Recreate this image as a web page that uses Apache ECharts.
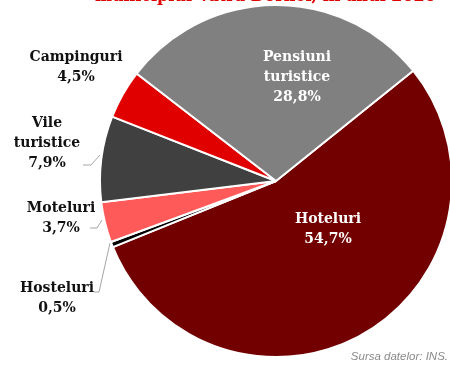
<!DOCTYPE html>
<html>
<head>
<meta charset="utf-8">
<script src="https://cdn.jsdelivr.net/npm/echarts@6/dist/echarts.min.js"></script>
<style>
  html, body { margin: 0; padding: 0; background: #fff; }
  #chart { width: 450px; height: 365px; }
</style>
</head>
<body>
<div id="chart"></div>
<script>
// Structura capacității de cazare pe tipuri de unități (%)
const categories = ['Hoteluri', 'Hosteluri', 'Moteluri', 'Vile turistice', 'Campinguri', 'Pensiuni turistice'];
const shares = [54.7, 0.5, 3.7, 7.9, 4.5, 28.8];
const colors = ['#730000', '#000000', '#ff5a5a', '#404040', '#e00000', '#808080'];

const titleText = 'municipiul Vatra Dornei, în anul 2020';
const sourceText = 'Sursa datelor: INS.';

// Label anchor and leader-line layout per slice
const labelPlace = {
  'Hoteluri':           { x: 328, y: 229, color: '#ffffff' },
  'Hosteluri':          { x: 57,  y: 298, line: [[110, 243], [99, 292], [94, 292]] },
  'Moteluri':           { x: 61,  y: 218, line: [[102, 220], [97, 228], [90, 228]] },
  'Vile turistice':     { x: 47,  y: 143, line: [[100, 155], [91, 165], [83, 165]] },
  'Campinguri':         { x: 76,  y: 67 },
  'Pensiuni turistice': { x: 297, y: 77, color: '#ffffff' }
};

const fmtPct = v => v.toFixed(1).replace('.', ',') + '%';

const data = categories.map((name, i) => ({
  name: name,
  value: shares[i],
  itemStyle: { color: colors[i] },
  label: { color: labelPlace[name].color || '#111111' },
  labelLine: { show: !!labelPlace[name].line }
}));

const chart = echarts.init(document.getElementById('chart'), null, { renderer: 'canvas' });

chart.setOption({
  animation: false,
  backgroundColor: '#ffffff',
  graphic: [
    {
      type: 'text',
      left: 95,
      top: -11,
      style: {
        text: titleText,
        fill: '#e00000',
        font: 'bold 16px "DejaVu Serif"'
      },
      z: 10
    },
    {
      type: 'text',
      right: 2,
      bottom: 2,
      style: {
        text: sourceText,
        fill: '#8a8a8a',
        font: 'italic 11.5px "Liberation Sans"'
      }
    }
  ],
  series: [{
    type: 'pie',
    center: [276, 181],
    radius: [0, 176],
    startAngle: 38.8,
    clockwise: true,
    avoidLabelOverlap: false,
    itemStyle: { borderColor: '#ffffff', borderWidth: 2 },
    label: {
      show: true,
      position: 'outside',
      fontFamily: '"DejaVu Serif"',
      fontWeight: 'bold',
      fontSize: 14,
      lineHeight: 20,
      align: 'center',
      formatter: p => p.name.replace(' ', '\n') + '\n' + fmtPct(p.value)
    },
    labelLine: {
      show: true,
      lineStyle: { color: '#a6a6a6', width: 1 }
    },
    labelLayout: function (params) {
      const place = labelPlace[categories[params.dataIndex]];
      const out = {
        x: place.x,
        y: place.y,
        align: 'center',
        verticalAlign: 'middle'
      };
      if (place.line) out.labelLinePoints = place.line;
      return out;
    },
    data: data
  }]
});
</script>
</body>
</html>
